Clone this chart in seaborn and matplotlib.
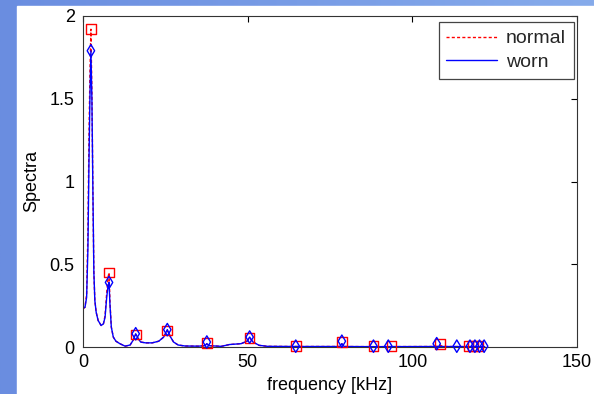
import matplotlib
matplotlib.use("Agg")
import matplotlib.pyplot as plt
import numpy as np
import pandas as pd
import seaborn as sns
from matplotlib.patches import Rectangle
from matplotlib.ticker import FuncFormatter

# spectrum curves (frequency in kHz)
freq_normal = [0.0, 0.6, 1.1, 1.5, 1.8, 2.1, 2.4, 2.7, 3.0, 3.3, 3.6, 4.0, 4.6, 5.5, 6.2, 6.7,
               7.2, 7.6, 7.9, 8.2, 8.6, 9.2, 10.0, 11.2, 12.8, 14.3, 15.2, 16.0, 16.8, 17.5,
               19.0, 21.0, 23.0, 24.5, 25.6, 26.6, 27.5, 28.9, 31.0, 35.0, 37.0, 37.6, 38.3,
               42.0, 44.5, 48.0, 49.8, 50.6, 51.6, 53.5, 56.0, 64.6, 78.0, 78.6, 79.3, 88.0,
               107.4, 108.4, 109.2, 122.0]
spec_normal = [0.23, 0.24, 0.32, 0.70, 1.25, 1.65, 1.92, 1.55, 0.95, 0.45, 0.28, 0.21, 0.16,
               0.13, 0.14, 0.19, 0.33, 0.42, 0.45, 0.27, 0.12, 0.06, 0.035, 0.02, 0.005, 0.012,
               0.04, 0.075, 0.05, 0.03, 0.025, 0.025, 0.035, 0.06, 0.10, 0.06, 0.03, 0.012,
               0.006, 0.005, 0.008, 0.018, 0.008, 0.004, 0.015, 0.02, 0.035, 0.055, 0.03, 0.01,
               0.004, 0.003, 0.003, 0.02, 0.003, 0.002, 0.003, 0.012, 0.003, 0.002]

freq_worn = [0.0, 0.6, 1.1, 1.5, 1.8, 2.1, 2.4, 2.7, 3.0, 3.3, 3.6, 4.0, 4.6, 5.5, 6.2, 6.7,
             7.2, 7.6, 7.9, 8.2, 8.6, 9.2, 10.0, 11.2, 12.8, 14.3, 15.2, 16.0, 16.8, 17.5,
             19.0, 21.0, 23.0, 24.5, 25.6, 26.6, 27.5, 28.9, 31.0, 35.0, 37.0, 37.6, 38.3,
             42.0, 44.5, 48.0, 49.8, 50.6, 51.6, 53.5, 56.0, 64.6, 78.0, 78.6, 79.3, 88.0,
             107.4, 122.0]
spec_worn = [0.235, 0.24, 0.30, 0.60, 1.10, 1.50, 1.79, 1.50, 0.95, 0.45, 0.28, 0.21, 0.16,
             0.13, 0.14, 0.18, 0.30, 0.37, 0.39, 0.25, 0.12, 0.06, 0.035, 0.02, 0.005, 0.012,
             0.04, 0.08, 0.05, 0.03, 0.025, 0.025, 0.035, 0.06, 0.105, 0.06, 0.03, 0.012,
             0.006, 0.005, 0.008, 0.02, 0.008, 0.004, 0.015, 0.02, 0.035, 0.06, 0.03, 0.01,
             0.004, 0.003, 0.003, 0.02, 0.003, 0.002, 0.003, 0.002]

# detected peaks
peak_f_normal = [2.4, 7.9, 16.0, 25.6, 37.6, 50.6, 64.6, 78.6, 88.2, 93.7, 108.4, 117.0, 118.5, 120.0]
peak_s_normal = [1.92, 0.45, 0.075, 0.10, 0.025, 0.055, 0.005, 0.03, 0.005, 0.005, 0.02,
                 0.005, 0.005, 0.005]
peak_f_worn = [2.4, 7.9, 16.0, 25.6, 37.6, 50.6, 64.6, 78.6, 88.2, 92.7, 107.4, 113.5,
               117.5, 119.0, 120.4, 121.8]
peak_s_worn = [1.79, 0.39, 0.08, 0.105, 0.03, 0.06, 0.005, 0.035, 0.005, 0.005, 0.02,
               0.005, 0.005, 0.005, 0.005, 0.005]

sns.set_theme(style="white")
plt.rcParams["font.family"] = ["Liberation Sans", "DejaVu Sans"]

fig = plt.figure(figsize=(5.94, 3.94), dpi=100)

# slide background: blue gradient with white panel
bg = fig.add_axes([0, 0, 1, 1], zorder=-2)
grad = np.linspace(0, 1, 256).reshape(1, -1)
bg.imshow(grad, aspect="auto", extent=[0, 1, 0, 1],
          cmap=matplotlib.colors.LinearSegmentedColormap.from_list("b", ["#6a8de0", "#86abeb"]))
bg.add_patch(Rectangle((17 / 594, 0), 1, 1 - 6 / 394, color="white", zorder=2))
bg.set_axis_off()

ax = fig.add_axes([83 / 594, 1 - 347 / 394, 494 / 594, 331 / 394])

sns.lineplot(x=freq_normal, y=spec_normal, ax=ax, color="#ff0000", linewidth=1,
             label="normal", sort=False)
ax.lines[-1].set_dashes((2.2, 1.6))
sns.lineplot(x=freq_worn, y=spec_worn, ax=ax, color="#0000ff", linewidth=1,
             label="worn", sort=False)

sns.scatterplot(x=peak_f_normal, y=peak_s_normal, ax=ax, marker="s", s=48,
                facecolor="none", edgecolor="#ff0000", linewidth=1, clip_on=False,
                zorder=3, legend=False)
sns.scatterplot(x=peak_f_worn, y=peak_s_worn, ax=ax, marker="d", s=40,
                facecolor="none", edgecolor="#0000ff", linewidth=1, clip_on=False,
                zorder=4, legend=False)

ax.set_xlim(0, 150)
ax.set_ylim(0, 2)
ax.set_xticks([0, 50, 100, 150])
ax.set_yticks([0, 0.5, 1, 1.5, 2])
ax.yaxis.set_major_formatter(FuncFormatter(lambda v, p: f"{v:g}"))
ax.tick_params(direction="in", length=4, width=0.8, top=True, right=True,
               labelsize=13, colors="black", pad=5)
ax.tick_params(axis="y", pad=6)
for sp in ax.spines.values():
    sp.set_color("#333333")
    sp.set_linewidth(0.8)

ax.set_xlabel("frequency [kHz]", fontsize=13, labelpad=4, color="black")
ax.set_ylabel("Spectra", fontsize=13, labelpad=7, color="black")

leg = ax.legend(loc="upper right", bbox_to_anchor=(0.993, 0.982), borderaxespad=0,
                fontsize=14, fancybox=False, edgecolor="#444444", framealpha=1,
                handlelength=2.6, handletextpad=0.45, labelspacing=0.3, borderpad=0.4)
leg.get_frame().set_linewidth(0.9)

fig.savefig("out.png", dpi=100)
